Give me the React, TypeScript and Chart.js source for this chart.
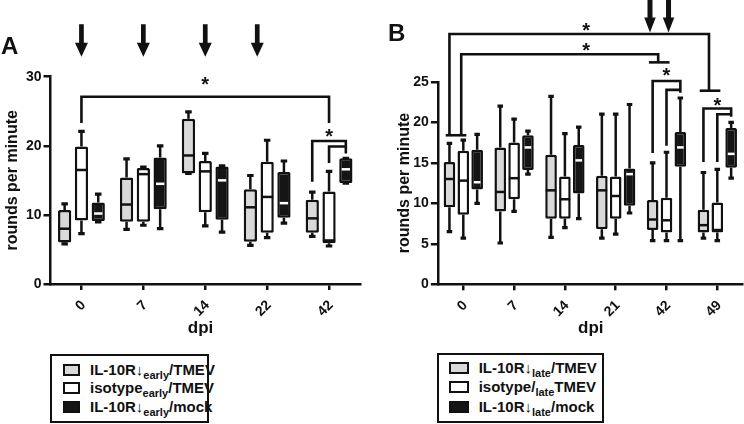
import React, { useEffect, useRef } from 'react';
import { Chart, registerables } from 'chart.js';

Chart.register(...registerables);

const FONT = '"Liberation Sans", Arial, Helvetica, sans-serif';
Chart.defaults.font.family = FONT;

const INK = '#111111';
const GRAY = '#d9d9d9';
const WHITE = '#ffffff';
const BLACK = '#151515';

// ---------------- Panel A (early treatment) ----------------
const dpiA = ['0', '7', '14', '22', '42'];
// every entry: [min, q1, median, q3, max]
const il10rEarlyTmev = [
  [5.8, 6.0, 8.0, 10.7, 11.6],
  [7.9, 9.0, 11.5, 15.4, 18.1],
  [16.0, 16.0, 18.6, 23.9, 24.9],
  [5.6, 6.1, 11.1, 13.7, 15.7],
  [6.9, 7.4, 9.5, 12.2, 13.3],
];
const isotypeEarlyTmev = [
  [7.3, 9.2, 16.5, 19.9, 22.1],
  [8.5, 9.0, 15.9, 16.8, 16.9],
  [8.4, 10.4, 16.3, 17.8, 18.9],
  [6.7, 7.4, 12.6, 17.7, 20.8],
  [5.5, 5.9, 6.3, 13.4, 16.3],
];
const il10rEarlyMock = [
  [9.0, 9.1, 10.2, 11.8, 13.0],
  [8.0, 10.8, 14.5, 18.3, 20.0],
  [7.5, 9.3, 15.0, 17.0, 17.1],
  [8.8, 9.6, 11.7, 16.2, 17.8],
  [14.6, 14.6, 16.6, 18.2, 18.2],
];
const yTicksA = [0, 10, 20, 30];
// treatment arrows (category position)
const arrowsA = [0, 1, 2, 2.84];
// significance brackets: polyline points [category, slot, value]
const bracketsA = [
  [[0, 0, 23.3], [0, 0, 27.1], [4, 0, 27.1], [4, 0, 23.3]],
  [[4, -1, 14.8], [4, -1, 20.7], [4, 1, 20.7], [4, 1, 18.9]],
  [[4, 0, 17.5], [4, 0, 19.9], [4, 1, 19.9]],
];
const starsA = [
  [2, 0, 29.5],
  [4, 0, 22.0],
];

// ---------------- Panel B (late treatment) ----------------
const dpiB = ['0', '7', '14', '21', '42', '49'];
const il10rLateTmev = [
  [6.5, 9.5, 13.0, 15.1, 17.4],
  [5.1, 9.0, 11.4, 16.9, 22.0],
  [5.8, 8.1, 11.6, 16.0, 23.2],
  [5.7, 6.8, 11.6, 13.4, 21.0],
  [5.4, 6.7, 8.0, 10.4, 15.0],
  [5.7, 6.4, 7.3, 9.2, 13.8],
];
const isotypeLateTmev = [
  [5.7, 8.6, 12.8, 16.5, 17.8],
  [9.0, 10.5, 13.1, 17.5, 20.4],
  [7.0, 8.1, 10.5, 13.3, 18.6],
  [6.2, 8.1, 10.9, 13.3, 21.0],
  [5.4, 6.4, 7.9, 10.7, 16.3],
  [5.4, 6.4, 6.7, 10.1, 14.2],
];
const il10rLateMock = [
  [10.0, 11.7, 12.6, 16.6, 18.5],
  [13.6, 14.1, 16.9, 18.4, 18.9],
  [8.1, 11.2, 15.3, 17.2, 19.4],
  [8.8, 9.7, 13.6, 14.3, 22.2],
  [5.4, 14.5, 16.9, 18.8, 23.0],
  [13.1, 14.4, 16.1, 19.3, 20.0],
];
const yTicksB = [0, 5, 10, 15, 20, 25];
const arrowsB = [3.675, 4.04];
const bracketsB = [
  [[0, -1, 18.4], [0, -1, 30.9], [5, -0.6, 30.9], [5, -0.6, 23.9]],
  [[5, -1.27, 23.9], [5, 0.22, 23.9]],
  [[0, -0.15, 18.4], [0, -0.15, 28.4], [4, -0.6, 28.4], [4, -0.6, 27.4]],
  [[4, -1.27, 27.4], [4, 0.22, 27.4]],
  [[0, -1.27, 18.4], [0, 0.22, 18.4]],
  [[4, -1, 16.2], [4, -1, 25.1], [4, 1, 25.1], [4, 1, 23.65]],
  [[4, 0, 17.1], [4, 0, 24.0], [4, 1, 24.0]],
  [[5, -1, 15.1], [5, -1, 21.7], [5, 1, 21.7], [5, 1, 20.7]],
  [[5, 0, 15.1], [5, 0, 21.0], [5, 1, 21.0]],
];
const starsB = [
  [2.42, 0, 31.9],
  [2.42, 0, 29.5],
  [4, 0, 26.3],
  [5, 0, 22.7],
];

type PanelCfg = {
  labels: string[];
  series: number[][][];
  yTicks: number[];
  arrows: number[];
  arrowTop: number;
  arrowTip: number;
  arrowHeadH: number;
  arrowHeadW: number;
  arrowShaft: number;
  brackets: number[][][];
  stars: number[][];
  area: { left: number; right: number; top: number; bottom: number };
  catPct: number;
  barPct: number;
  titlePad: number;
  tickLabelOffset: number;
  capW: number;
};

const FILLS = [GRAY, WHITE, BLACK];
const MEDIANS = [INK, INK, '#ffffff'];
const W = 372;
const H = 345;
const BW = 2.5;

function makePlugin(cfg: PanelCfg) {
  const slotPx = (chart: any) => {
    const a = chart.getDatasetMeta(0).data[0];
    const b = chart.getDatasetMeta(1).data[0];
    return b.x - a.x;
  };
  const xAt = (chart: any, c: number, s: number) =>
    chart.scales.x.getPixelForValue(c) + s * slotPx(chart);
  return {
    id: 'boxExtras',
    beforeDatasetsDraw(chart: any) {
      const ctx = chart.ctx;
      const ys = chart.scales.y;
      ctx.save();
      ctx.strokeStyle = INK;
      ctx.lineCap = 'butt';
      cfg.series.forEach((ser, d) => {
        const meta = chart.getDatasetMeta(d);
        ser.forEach((r, i) => {
          const bar: any = meta.data[i];
          const x = bar.x;
          const [mn, q1, , q3, mx] = r;
          ctx.lineWidth = 2.5;
          ctx.beginPath();
          ctx.moveTo(x, ys.getPixelForValue(q3));
          ctx.lineTo(x, ys.getPixelForValue(mx));
          ctx.moveTo(x, ys.getPixelForValue(q1));
          ctx.lineTo(x, ys.getPixelForValue(mn));
          ctx.stroke();
          ctx.lineWidth = 3.2;
          ctx.beginPath();
          const cw = cfg.capW / 2;
          const yMax = ys.getPixelForValue(mx);
          const yMin = ys.getPixelForValue(mn);
          ctx.moveTo(x - cw, yMax);
          ctx.lineTo(x + cw, yMax);
          ctx.moveTo(x - cw, yMin);
          ctx.lineTo(x + cw, yMin);
          ctx.stroke();
        });
      });
      ctx.restore();
    },
    afterDatasetsDraw(chart: any) {
      const ctx = chart.ctx;
      const ys = chart.scales.y;
      ctx.save();
      ctx.lineCap = 'butt';
      ctx.lineWidth = 2.5;
      cfg.series.forEach((ser, d) => {
        const meta = chart.getDatasetMeta(d);
        ser.forEach((r, i) => {
          const bar: any = meta.data[i];
          const half = d === 2 ? bar.width / 2 - BW : bar.width / 2 - 0.5;
          const yv = ys.getPixelForValue(r[2]);
          ctx.strokeStyle = MEDIANS[d];
          ctx.beginPath();
          ctx.moveTo(bar.x - half, yv);
          ctx.lineTo(bar.x + half, yv);
          ctx.stroke();
        });
      });
      ctx.restore();
    },
    afterDraw(chart: any) {
      const ctx = chart.ctx;
      const xs = chart.scales.x;
      const ys = chart.scales.y;
      ctx.save();
      ctx.fillStyle = INK;
      ctx.strokeStyle = INK;
      // treatment arrows
      cfg.arrows.forEach((a) => {
        const x = xs.getPixelForValue(a);
        const yTop = ys.getPixelForValue(cfg.arrowTop);
        const yTip = ys.getPixelForValue(cfg.arrowTip);
        const yHead = yTip - cfg.arrowHeadH;
        const sw = cfg.arrowShaft / 2;
        const hw = cfg.arrowHeadW / 2;
        ctx.beginPath();
        ctx.moveTo(x - sw, yTop);
        ctx.lineTo(x + sw, yTop);
        ctx.lineTo(x + sw, yHead);
        ctx.lineTo(x + hw, yHead);
        ctx.lineTo(x, yTip);
        ctx.lineTo(x - hw, yHead);
        ctx.lineTo(x - sw, yHead);
        ctx.closePath();
        ctx.fill();
      });
      // brackets
      ctx.lineWidth = 2.6;
      ctx.lineJoin = 'miter';
      ctx.lineCap = 'butt';
      cfg.brackets.forEach((poly) => {
        ctx.beginPath();
        poly.forEach(([c, s, v], k) => {
          const x = xAt(chart, c, s);
          const y = ys.getPixelForValue(v);
          if (k === 0) ctx.moveTo(x, y);
          else ctx.lineTo(x, y);
        });
        ctx.stroke();
      });
      // asterisks
      const size = 20;
      ctx.font = `bold ${size}px ${FONT}`;
      ctx.textAlign = 'center';
      ctx.textBaseline = 'alphabetic';
      cfg.stars.forEach(([c, s, v]) => {
        const x = xAt(chart, c, s);
        const y = ys.getPixelForValue(v);
        ctx.fillText('*', x, y + size * 0.56);
      });
      ctx.restore();
    },
  };
}

function buildConfig(cfg: PanelCfg): any {
  const tickFont = { family: FONT, size: 14, weight: 'bold' as const };
  const yt = cfg.yTicks;
  return {
    type: 'bar',
    data: {
      labels: cfg.labels,
      datasets: cfg.series.map((ser, d) => ({
        data: ser.map((r) => [r[1], r[3]]),
        backgroundColor: FILLS[d],
        borderColor: INK,
        borderWidth: BW,
        borderSkipped: false,
        borderRadius: 1.5,
        categoryPercentage: cfg.catPct,
        barPercentage: cfg.barPct,
      })),
    },
    plugins: [makePlugin(cfg)],
    options: {
      responsive: false,
      animation: false,
      devicePixelRatio: 1,
      events: [],
      layout: {
        padding: { left: 0, right: W - cfg.area.right, top: cfg.area.top, bottom: 0 },
      },
      plugins: { legend: { display: false }, tooltip: { enabled: false } },
      scales: {
        x: {
          type: 'category',
          offset: true,
          grid: {
            display: true,
            drawOnChartArea: false,
            offset: false,
            color: INK,
            lineWidth: 2.5,
            tickLength: 6,
          },
          border: { display: true, color: INK, width: 2.5 },
          ticks: {
            font: tickFont,
            color: INK,
            maxRotation: 45,
            minRotation: 45,
            padding: 7,
            labelOffset: cfg.tickLabelOffset,
            autoSkip: false,
          },
          afterFit: (s: any) => {
            s.height = H - cfg.area.bottom;
          },
        },
        y: {
          min: yt[0],
          max: yt[yt.length - 1],
          ticks: { stepSize: yt[1] - yt[0], font: tickFont, color: INK, padding: 2 },
          grid: { drawOnChartArea: false, color: INK, lineWidth: 2.5, tickLength: 7 },
          border: { display: true, color: INK, width: 2.5 },
          title: {
            display: true,
            text: 'rounds per minute',
            font: { family: FONT, size: 16, weight: 'bold' },
            color: INK,
            padding: { top: cfg.titlePad, bottom: 0 },
          },
          afterFit: (s: any) => {
            s.width = cfg.area.left;
          },
        },
      },
    },
  };
}

const cfgA: PanelCfg = {
  labels: dpiA,
  series: [il10rEarlyTmev, isotypeEarlyTmev, il10rEarlyMock],
  yTicks: yTicksA,
  arrows: arrowsA,
  arrowTop: 37.6,
  arrowTip: 32.9,
  arrowHeadH: 14,
  arrowHeadW: 13,
  arrowShaft: 4.7,
  brackets: bracketsA,
  stars: starsA,
  area: { left: 50.5, right: 360, top: 76.7, bottom: 284 },
  catPct: 0.814,
  barPct: 0.79,
  titlePad: 3,
  tickLabelOffset: 2,
  capW: 6.5,
};

const cfgB: PanelCfg = {
  labels: dpiB,
  series: [il10rLateTmev, isotypeLateTmev, il10rLateMock],
  yTicks: yTicksB,
  arrows: arrowsB,
  arrowTop: 35.1,
  arrowTip: 31.1,
  arrowHeadH: 15,
  arrowHeadW: 11.5,
  arrowShaft: 5,
  brackets: bracketsB,
  stars: starsB,
  area: { left: 65.9, right: 370.7, top: 81.8, bottom: 284.3 },
  catPct: 0.818,
  barPct: 0.84,
  titlePad: 23,
  tickLabelOffset: 2,
  capW: 5.5,
};

function Panel({ cfg, left }: { cfg: PanelCfg; left: number }) {
  const ref = useRef<HTMLCanvasElement>(null);
  useEffect(() => {
    const chart = new Chart(ref.current as HTMLCanvasElement, buildConfig(cfg));
    return () => chart.destroy();
  }, [cfg]);
  return (
    <canvas
      ref={ref}
      width={W}
      height={H}
      style={{ position: 'absolute', left, top: 0, width: W, height: H, display: 'block' }}
    />
  );
}

function Sub({ children }: { children: React.ReactNode }) {
  return <span style={{ fontSize: 11, position: 'relative', top: 4 }}>{children}</span>;
}

const legendRowsA = [
  { fill: GRAY, node: <>IL-10R↓<Sub>early</Sub>/TMEV</> },
  { fill: WHITE, node: <>isotype<Sub>early</Sub>/TMEV</> },
  { fill: BLACK, node: <>IL-10R↓<Sub>early</Sub>/mock</> },
];
const legendRowsB = [
  { fill: GRAY, node: <>IL-10R↓<Sub>late</Sub>/TMEV</> },
  { fill: WHITE, node: <>isotype/<Sub>late</Sub>TMEV</> },
  { fill: BLACK, node: <>IL-10R↓<Sub>late</Sub>/mock</> },
];

function Legend(props: {
  left: number;
  top: number;
  width: number;
  height: number;
  swLeft: number;
  swW: number;
  swH: number;
  textLeft: number;
  centers: number[];
  rows: { fill: string; node: React.ReactNode }[];
}) {
  const { left, top, width, height, swLeft, swW, swH, textLeft, centers, rows } = props;
  return (
    <div
      style={{
        position: 'absolute',
        left,
        top,
        width,
        height,
        boxSizing: 'border-box',
        border: `2px solid ${INK}`,
        background: '#fff',
      }}
    >
      {rows.map((r, i) => (
        <React.Fragment key={i}>
          <div
            style={{
              position: 'absolute',
              left: swLeft,
              top: centers[i] - swH / 2,
              width: swW,
              height: swH,
              boxSizing: 'border-box',
              border: `2px solid ${INK}`,
              background: r.fill,
            }}
          />
          <div
            style={{
              position: 'absolute',
              left: textLeft,
              top: centers[i] - 9,
              fontSize: 15,
              lineHeight: '18px',
              fontWeight: 'bold',
              color: INK,
              whiteSpace: 'nowrap',
            }}
          >
            {r.node}
          </div>
        </React.Fragment>
      ))}
    </div>
  );
}

export default function App() {
  const letter: React.CSSProperties = {
    position: 'absolute',
    fontSize: 24,
    lineHeight: '24px',
    fontWeight: 'bold',
    color: INK,
  };
  const dpi: React.CSSProperties = {
    position: 'absolute',
    width: 60,
    textAlign: 'center',
    fontSize: 17,
    lineHeight: '17px',
    fontWeight: 'bold',
    color: INK,
    top: 318.6,
  };
  return (
    <div
      style={{
        position: 'absolute',
        left: 0,
        top: 0,
        width: 744,
        height: 424,
        overflow: 'hidden',
        background: '#fff',
        fontFamily: FONT,
      }}
    >
      <Panel cfg={cfgA} left={0} />
      <Panel cfg={cfgB} left={372} />
      <div style={{ ...letter, left: 1, top: 33.7 }}>A</div>
      <div style={{ ...letter, left: 388, top: 21.4 }}>B</div>
      <div style={{ ...dpi, left: 200.5 - 30 }}>dpi</div>
      <div style={{ ...dpi, left: 590.8 - 30 }}>dpi</div>
      <Legend
        left={50}
        top={354.3}
        width={159.3}
        height={68.4}
        swLeft={10.7}
        swW={17.3}
        swH={12}
        textLeft={38}
        centers={[13.7, 31.3, 50.4]}
        rows={legendRowsA}
      />
      <Legend
        left={437}
        top={352.7}
        width={166.7}
        height={70}
        swLeft={10.3}
        swW={19.4}
        swH={12.3}
        textLeft={39.7}
        centers={[13.6, 32.6, 52.6]}
        rows={legendRowsB}
      />
    </div>
  );
}
